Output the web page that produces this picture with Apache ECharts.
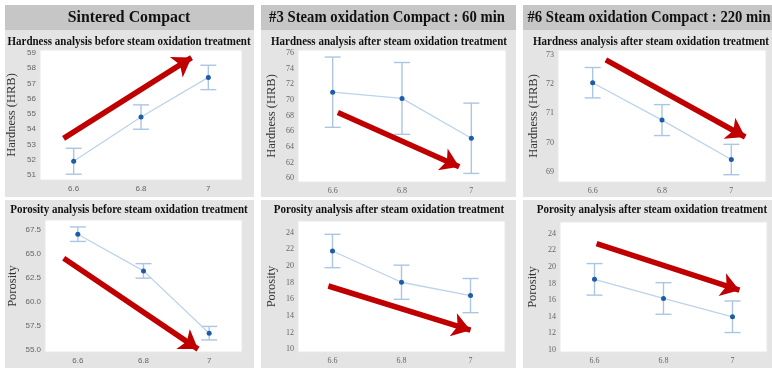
<!DOCTYPE html>
<html>
<head>
<meta charset="utf-8">
<script src="https://cdn.jsdelivr.net/npm/echarts@6/dist/echarts.min.js"></script>
<style>
html,body{margin:0;padding:0;background:#fff;}
#chart{width:772px;height:368px;}
</style>
</head>
<body>
<div id="chart"></div>
<script>
// ---------- data ----------
const xValues = [6.6, 6.8, 7];
const xTickLabels = [6.6, 6.8, 7];

const hardSintered = [51.9, 54.8, 57.4];
const hardSinteredErr = [0.85, 0.8, 0.8];
const hard60 = [71.0, 70.2, 65.1];
const hard60Err = [4.5, 4.6, 4.5];
const hard220 = [72.05, 70.77, 69.42];
const hard220Err = [0.52, 0.53, 0.52];

const poroSintered = [67.0, 63.2, 56.75];
const poroSinteredErr = [0.75, 0.75, 0.7];
const poro60 = [21.8, 18.05, 16.45];
const poro60Err = [2.0, 2.05, 2.05];
const poro220 = [18.5, 16.2, 14.0];
const poro220Err = [1.9, 1.9, 1.9];

const yTicksHardSintered = [51, 52, 53, 54, 55, 56, 57, 58, 59];
const yTicksHard60 = [60, 62, 64, 66, 68, 70, 72, 74, 76];
const yTicksHard220 = [69, 70, 71, 72, 73];
const yTicksPoroSintered = [55.0, 57.5, 60.0, 62.5, 65.0, 67.5];
const yTicksPoro60 = [10, 12, 14, 16, 18, 20, 22, 24];
const yTicksPoro220 = [10, 12, 14, 16, 18, 20, 22, 24];

// trend arrows (start, end) in data units
const arrowHardSintered = [[6.57, 53.4], [6.95, 58.7]];
const arrowHard60 = [[6.615, 68.4], [6.965, 61.45]];
const arrowHard220 = [[6.638, 72.83], [7.04, 70.19]];
const arrowPoroSintered = [[6.557, 64.5], [6.966, 55.1]];
const arrowPoro60 = [[6.588, 17.6], [7.0, 12.3]];
const arrowPoro220 = [[6.606, 22.8], [7.02, 17.2]];

const headers = ['Sintered Compact', '#3 Steam oxidation Compact : 60 min', '#6 Steam oxidation Compact : 220 min'];
const subtitles = [
  'Hardness analysis before steam oxidation treatment',
  'Hardness analysis after steam oxidation treatment',
  'Hardness analysis after steam oxidation treatment',
  'Porosity analysis before steam oxidation treatment',
  'Porosity analysis after steam oxidation treatment',
  'Porosity analysis after steam oxidation treatment'
];
const yNames = ['Hardness (HRB)', 'Hardness (HRB)', 'Hardness (HRB)', 'Porosity', 'Porosity', 'Porosity'];

// ---------- layout ----------
const panels = [
  {vals: hardSintered, err: hardSinteredErr, ticks: yTicksHardSintered, arrow: arrowHardSintered,
   grid: {left: 40, top: 50, width: 202, height: 130}, ymin: 50.67, ymax: 59.2, nameGap: 22, sans: true, dec: 0},
  {vals: hard60, err: hard60Err, ticks: yTicksHard60, arrow: arrowHard60,
   grid: {left: 298, top: 50, width: 208, height: 132}, ymin: 59.5, ymax: 76.4, nameGap: 20, sans: false, dec: 0},
  {vals: hard220, err: hard220Err, ticks: yTicksHard220, arrow: arrowHard220,
   grid: {left: 558, top: 50, width: 208, height: 132}, ymin: 68.65, ymax: 73.17, nameGap: 18, sans: false, dec: 0},
  {vals: poroSintered, err: poroSinteredErr, ticks: yTicksPoroSintered, arrow: arrowPoroSintered,
   grid: {left: 45, top: 220, width: 197, height: 132}, ymin: 54.8, ymax: 68.47, nameGap: 26, sans: true, dec: 1},
  {vals: poro60, err: poro60Err, ticks: yTicksPoro60, arrow: arrowPoro60,
   grid: {left: 298, top: 221, width: 207, height: 131}, ymin: 9.68, ymax: 25.4, nameGap: 20, sans: false, dec: 0},
  {vals: poro220, err: poro220Err, ticks: yTicksPoro220, arrow: arrowPoro220,
   grid: {left: 560, top: 222, width: 207, height: 130}, ymin: 9.76, ymax: 25.4, nameGap: 21, sans: false, dec: 0}
];

const serif = '"Liberation Serif", "DejaVu Serif", serif';
const sans = '"Liberation Sans", "DejaVu Sans", sans-serif';
const grids = [], xAxes = [], yAxes = [], series = [];

panels.forEach((p, i) => {
  grids.push(Object.assign({show: true, backgroundColor: '#ffffff', borderColor: '#e8e8e8', borderWidth: 1}, p.grid));
  const lblFont = p.sans ? sans : serif;
  xAxes.push({
    type: 'value', gridIndex: i, min: 6.5, max: 7.1,
    axisLine: {show: false}, axisTick: {show: false}, splitLine: {show: false},
    axisLabel: {customValues: xTickLabels, fontFamily: lblFont, fontSize: 8, color: '#666', margin: 5,
      formatter: v => String(+v.toFixed(1))}
  });
  yAxes.push({
    type: 'value', gridIndex: i, min: p.ymin, max: p.ymax,
    name: yNames[i], nameLocation: 'middle', nameGap: p.nameGap, nameRotate: 90,
    nameTextStyle: {fontFamily: serif, fontSize: 12.5, color: '#333'},
    axisLine: {show: false}, axisTick: {show: false}, splitLine: {show: false},
    axisLabel: {customValues: p.ticks, fontFamily: lblFont, fontSize: 8, color: '#666', margin: 4,
      formatter: v => Number(v).toFixed(p.dec)}
  });
  const pts = xValues.map((x, k) => [x, p.vals[k]]);
  const errData = xValues.map((x, k) => [x, p.vals[k] - p.err[k], p.vals[k] + p.err[k]]);
  series.push({
    type: 'custom', xAxisIndex: i, yAxisIndex: i, data: errData, z: 2, silent: true,
    renderItem: (params, api) => {
      const lo = api.coord([api.value(0), api.value(1)]);
      const hi = api.coord([api.value(0), api.value(2)]);
      const hw = 8;
      const st = {stroke: '#abc6e2', lineWidth: 1.4};
      return {type: 'group', children: [
        {type: 'line', shape: {x1: lo[0], y1: lo[1], x2: hi[0], y2: hi[1]}, style: st},
        {type: 'line', shape: {x1: lo[0] - hw, y1: lo[1], x2: lo[0] + hw, y2: lo[1]}, style: st},
        {type: 'line', shape: {x1: hi[0] - hw, y1: hi[1], x2: hi[0] + hw, y2: hi[1]}, style: st}
      ]};
    }
  });
  series.push({
    type: 'line', xAxisIndex: i, yAxisIndex: i, data: pts, z: 3,
    symbol: 'circle', symbolSize: 5,
    lineStyle: {color: '#bcd3ea', width: 1.3},
    itemStyle: {color: '#1d5ca6'},
    markLine: {
      silent: true, symbol: ['none', 'arrow'], symbolSize: [18, 18],
      label: {show: false},
      lineStyle: {color: '#c00000', width: 5.5, type: 'solid'},
      data: [[{coord: p.arrow[0]}, {coord: p.arrow[1]}]]
    }
  });
});

// ---------- backgrounds & texts ----------
const colX = [[5, 254], [261, 516], [523, 772]];
const graphic = [];
colX.forEach((c, j) => {
  graphic.push({type: 'rect', z: -10, shape: {x: c[0], y: 5, width: c[1] - c[0], height: 192}, style: {fill: '#e4e4e4'}});
  graphic.push({type: 'rect', z: -9, shape: {x: c[0], y: 5, width: c[1] - c[0], height: 25}, style: {fill: '#c6c6c6'}});
  graphic.push({type: 'rect', z: -10, shape: {x: c[0], y: 200, width: c[1] - c[0], height: 168}, style: {fill: '#e4e4e4'}});
});
const headerX = [129, 387, 649];
const headerScale = [0.96, 0.89, 0.89];
headers.forEach((h, j) => {
  graphic.push({type: 'text', z: 10, x: headerX[j], y: 18, scaleX: headerScale[j],
    style: {text: h, fontFamily: serif, fontWeight: 'bold', fontSize: 16.5, fill: '#111', align: 'center', verticalAlign: 'middle'}});
});
const subX = [129, 389, 651, 129, 389, 652];
const subY = [42, 42, 42, 210, 210, 210];
subtitles.forEach((s, i) => {
  graphic.push({type: 'text', z: 10, x: subX[i], y: subY[i], scaleX: 0.88,
    style: {text: s, fontFamily: serif, fontWeight: 'bold', fontSize: 12.5, fill: '#111', align: 'center', verticalAlign: 'middle'}});
});

const chart = echarts.init(document.getElementById('chart'), null, {renderer: 'canvas'});
chart.setOption({
  animation: false,
  backgroundColor: '#ffffff',
  grid: grids, xAxis: xAxes, yAxis: yAxes, series: series, graphic: graphic
});
</script>
</body>
</html>
